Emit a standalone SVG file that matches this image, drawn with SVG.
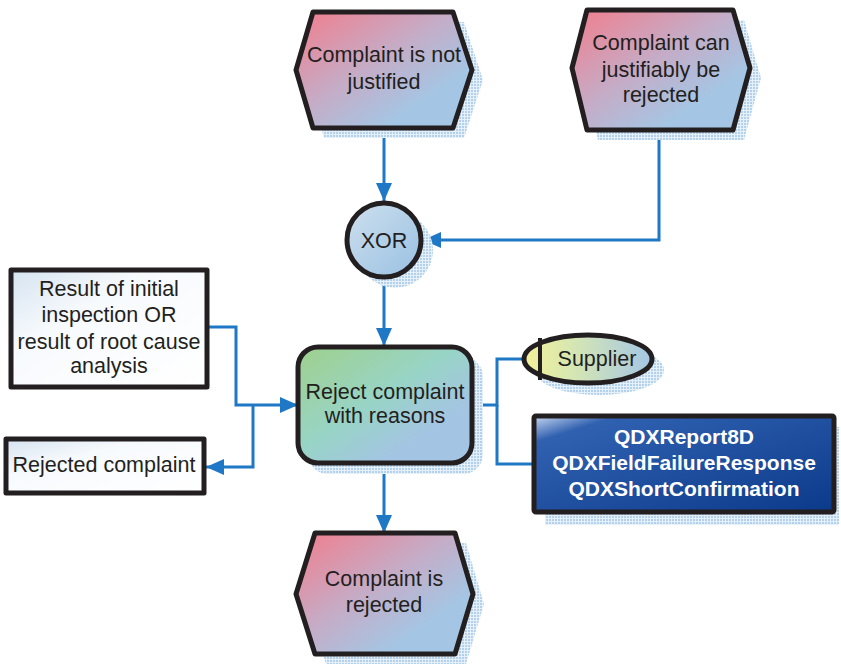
<svg xmlns="http://www.w3.org/2000/svg" width="841" height="667" viewBox="0 0 841 667">
  <defs>
    <style>
      .node { stroke: #231f20; stroke-width: 5; stroke-linejoin: round; }
      .shadow { fill: url(#dots); stroke: none; }
      .conn { fill: none; stroke: #1e78c6; stroke-width: 3; }
      .lbl { font-family: "Liberation Sans", Arial, sans-serif; font-size: 21.5px; fill: #231f20; text-anchor: middle; }
      .lblw { font-family: "Liberation Sans", Arial, sans-serif; font-size: 21px; font-weight: bold; fill: #ffffff; text-anchor: middle; }
    </style>
    <pattern id="dots" width="3" height="3" patternUnits="userSpaceOnUse">
      <rect width="3" height="3" fill="#e6f0f9"/>
      <rect width="2" height="2" fill="#b3d1ec"/>
    </pattern>
    <linearGradient id="evt" x1="0" y1="0" x2="1" y2="1">
      <stop offset="0" stop-color="#f27d8c"/>
      <stop offset="0.45" stop-color="#c4adc8"/>
      <stop offset="0.75" stop-color="#a4c6e4"/>
      <stop offset="1" stop-color="#a4c6e4"/>
    </linearGradient>
    <linearGradient id="fn" x1="0" y1="0" x2="1" y2="1">
      <stop offset="0" stop-color="#9fd08c"/>
      <stop offset="0.45" stop-color="#98d4c6"/>
      <stop offset="0.75" stop-color="#a4c4e4"/>
      <stop offset="1" stop-color="#a4c4e4"/>
    </linearGradient>
    <linearGradient id="xor" x1="0" y1="0" x2="1" y2="1">
      <stop offset="0" stop-color="#cfe0ee"/>
      <stop offset="1" stop-color="#98c0e2"/>
    </linearGradient>
    <linearGradient id="org" x1="0" y1="0" x2="1" y2="0">
      <stop offset="0" stop-color="#f3f09a"/>
      <stop offset="0.35" stop-color="#d8e8b0"/>
      <stop offset="1" stop-color="#a4c6e6"/>
    </linearGradient>
    <linearGradient id="data" x1="0" y1="0" x2="1" y2="1">
      <stop offset="0" stop-color="#d6e3f0"/>
      <stop offset="0.35" stop-color="#f7fafd"/>
      <stop offset="1" stop-color="#ffffff"/>
    </linearGradient>
    <linearGradient id="sys" x1="0" y1="0" x2="1" y2="1">
      <stop offset="0" stop-color="#c9d8f0"/>
      <stop offset="0.14" stop-color="#3060b0"/>
      <stop offset="1" stop-color="#0b3a8a"/>
    </linearGradient>
    <marker id="arrow" markerUnits="userSpaceOnUse" markerWidth="20" markerHeight="18" refX="18" refY="8" orient="auto">
      <path d="M0,0 L18,8 L0,16 Z" fill="#1e78c6"/>
    </marker>
  </defs>

  <!-- connectors -->
  <g id="connectors">
    <path class="conn" d="M384,130 V201" marker-end="url(#arrow)"/>
    <path class="conn" d="M659,132 V240 H423" marker-end="url(#arrow)"/>
    <path class="conn" d="M384,279 V346" marker-end="url(#arrow)"/>
    <path class="conn" d="M208,327 H236 V405 H298" marker-end="url(#arrow)"/>
    <path class="conn" d="M253,405 V467 H206" marker-end="url(#arrow)"/>
    <path class="conn" d="M384,463 V533" marker-end="url(#arrow)"/>
    <path class="conn" d="M472,405 H497 V359 H525"/>
    <path class="conn" d="M497,405 V464 H534"/>
  </g>

  <!-- event: not justified -->
  <g id="evt-not-justified">
    <polygon class="shadow" points="324,22 464,22 483,80 464,138 324,138 307,80"/>
    <polygon class="node" fill="url(#evt)" points="313,12 453,12 472,70 453,128 313,128 296,70"/>
    <text class="lbl" x="384" y="62">Complaint is not</text>
    <text class="lbl" x="384" y="89">justified</text>
  </g>

  <!-- event: can be rejected -->
  <g id="evt-can-reject">
    <polygon class="shadow" points="598,20 744,20 761,78 744,140 598,140 583,78"/>
    <polygon class="node" fill="url(#evt)" points="587,10 733,10 750,68 733,130 587,130 572,68"/>
    <text class="lbl" x="661" y="50">Complaint can</text>
    <text class="lbl" x="661" y="77">justifiably be</text>
    <text class="lbl" x="661" y="102">rejected</text>
  </g>

  <!-- XOR connector -->
  <g id="xor-gate">
    <circle class="shadow" cx="395" cy="250" r="38"/>
    <circle class="node" fill="url(#xor)" cx="384" cy="240" r="37"/>
    <text class="lbl" x="384" y="248">XOR</text>
  </g>

  <!-- input data -->
  <g id="data-result">
    <rect class="node" fill="url(#data)" x="11" y="270" width="196" height="117"/>
    <text class="lbl" x="109" y="296">Result of initial</text>
    <text class="lbl" x="109" y="322">inspection OR</text>
    <text class="lbl" x="109" y="349">result of root cause</text>
    <text class="lbl" x="109" y="373">analysis</text>
  </g>

  <!-- output data -->
  <g id="data-rejected">
    <rect class="node" fill="url(#data)" x="6" y="439" width="198" height="54"/>
    <text class="lbl" x="104" y="472">Rejected complaint</text>
  </g>

  <!-- function -->
  <g id="fn-reject">
    <rect class="shadow" x="308" y="357" width="175" height="117" rx="20"/>
    <rect class="node" fill="url(#fn)" x="298" y="347" width="174" height="116" rx="20"/>
    <text class="lbl" x="385" y="399">Reject complaint</text>
    <text class="lbl" x="385" y="423">with reasons</text>
  </g>

  <!-- organisational unit -->
  <g id="org-supplier">
    <ellipse class="shadow" cx="599" cy="370" rx="65" ry="25"/>
    <ellipse class="node" fill="url(#org)" cx="588" cy="359" rx="64" ry="24"/>
    <line x1="540" y1="338" x2="540" y2="380" stroke="#231f20" stroke-width="4"/>
    <text class="lbl" x="597" y="366">Supplier</text>
  </g>

  <!-- application system -->
  <g id="sys-qdx">
    <rect class="shadow" x="545" y="427" width="294" height="98"/>
    <rect class="node" fill="url(#sys)" x="534" y="416" width="300" height="96" rx="2"/>
    <text class="lblw" x="684" y="444">QDXReport8D</text>
    <text class="lblw" x="684" y="470">QDXFieldFailureResponse</text>
    <text class="lblw" x="684" y="496">QDXShortConfirmation</text>
  </g>

  <!-- event: rejected -->
  <g id="evt-rejected">
    <polygon class="shadow" points="326,543 466,543 484,604 466,664 326,664 307,604"/>
    <polygon class="node" fill="url(#evt)" points="315,533 455,533 473,594 455,654 315,654 296,594"/>
    <text class="lbl" x="384" y="586">Complaint is</text>
    <text class="lbl" x="384" y="612">rejected</text>
  </g>
</svg>
